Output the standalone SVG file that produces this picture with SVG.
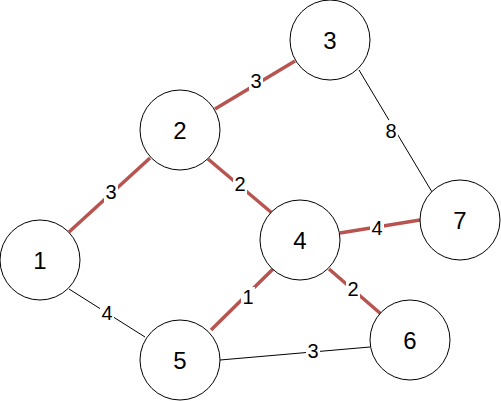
<svg xmlns="http://www.w3.org/2000/svg" width="501" height="401" viewBox="0 0 501 401">
<style>
.node circle{fill:#fff;stroke:#000;stroke-width:1}
.node text{font-family:"Liberation Sans",Arial,sans-serif;font-size:24px;text-anchor:middle;fill:#000}
.red{stroke:#b85450;stroke-width:3.5;fill:none}
.blk{stroke:#000;stroke-width:1;fill:none}
.lbl rect{fill:#fff}
.lbl text{font-family:"Liberation Sans",Arial,sans-serif;font-size:20px;text-anchor:middle;fill:#000}
</style>
<rect width="501" height="401" fill="#fff"/>
<g id="connectors">
<line class="red" x1="215" y1="109" x2="295" y2="61"/>
<line class="blk" x1="359" y1="70" x2="432" y2="192"/>
<line class="red" x1="69" y1="232" x2="150" y2="158"/>
<line class="red" x1="208" y1="159" x2="272" y2="213"/>
<line class="red" x1="340" y1="233" x2="420" y2="220"/>
<line class="blk" x1="69" y1="289" x2="145" y2="337"/>
<line class="red" x1="273" y1="269" x2="211" y2="330"/>
<line class="red" x1="329" y1="269" x2="381" y2="314"/>
<line class="blk" x1="220" y1="360" x2="370" y2="347"/>
<g class="lbl">
<rect x="249" y="70" width="14" height="21"/><text x="256" y="88">3</text>
<rect x="384" y="120" width="14" height="21"/><text x="391" y="138">8</text>
<rect x="104" y="181" width="14" height="21"/><text x="111" y="199">3</text>
<rect x="233" y="174" width="14" height="21"/><text x="240" y="191">2</text>
<rect x="370" y="217" width="14" height="21"/><text x="377" y="235">4</text>
<rect x="100" y="303" width="14" height="21"/><text x="107" y="320">4</text>
<rect x="241" y="287" width="14" height="21"/><text x="248" y="304">1</text>
<rect x="346" y="278" width="14" height="21"/><text x="353" y="296">2</text>
<rect x="306" y="341" width="14" height="21"/><text x="313" y="358">3</text>
</g>
</g>
<g id="node1" class="node"><circle cx="40" cy="260" r="40"/><text x="40" y="269">1</text></g>
<g id="node2" class="node"><circle cx="180" cy="130" r="40"/><text x="180" y="139">2</text></g>
<g id="node3" class="node"><circle cx="330" cy="40" r="40"/><text x="330" y="49">3</text></g>
<g id="node4" class="node"><circle cx="300" cy="240" r="40"/><text x="300" y="249">4</text></g>
<g id="node5" class="node"><circle cx="180" cy="360" r="40"/><text x="180" y="369">5</text></g>
<g id="node6" class="node"><circle cx="410" cy="340" r="40"/><text x="410" y="349">6</text></g>
<g id="node7" class="node"><circle cx="460" cy="220" r="40"/><text x="460" y="229">7</text></g>
</svg>
